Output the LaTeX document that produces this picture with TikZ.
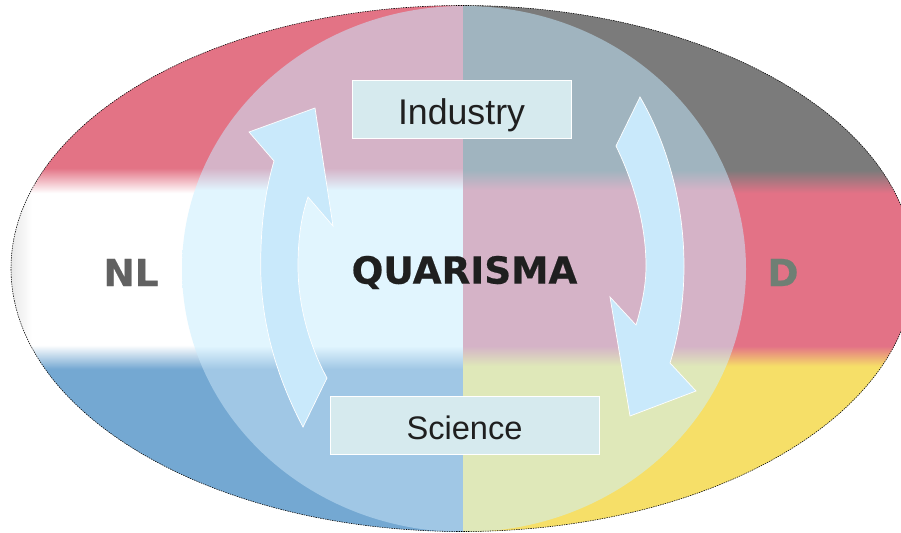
\documentclass[tikz,border=0pt]{standalone}
\usepackage{fontspec}
\setmainfont{Liberation Sans}
\newfontfamily\headfont{DejaVu Sans}[BoldFont={DejaVu Sans Bold},BoldFeatures={FakeBold=0.5}]
\usetikzlibrary{shapes.geometric}
\definecolor{nlred}{HTML}{E37385}
\definecolor{nlblue}{HTML}{74A8D2}
\definecolor{degrey}{HTML}{7B7B7B}
\definecolor{dered}{HTML}{E37286}
\definecolor{deyellow}{HTML}{F6DF68}
\definecolor{cpink}{HTML}{D5B3C7}
\definecolor{cwhite}{HTML}{E1F5FE}
\definecolor{cblue}{HTML}{A0C7E5}
\definecolor{cslate}{HTML}{A0B4BF}
\definecolor{cgreen}{HTML}{DFE8B9}
\definecolor{arrowblue}{HTML}{C9E9FB}
\definecolor{boxfill}{HTML}{D6EAEE}
\definecolor{dgrey}{HTML}{6F7F74}
% the path's bounding box fills the inner 25bp..75bp of a 100bp shading
\pgfdeclareverticalshading{flagNL}{100bp}{color(0bp)=(nlblue); color(40.38bp)=(nlblue); color(42.63bp)=(white); color(56.89bp)=(white); color(59.24bp)=(nlred); color(100bp)=(nlred)}
\pgfdeclareverticalshading{flagDE}{100bp}{color(0bp)=(deyellow); color(40.66bp)=(deyellow); color(42.54bp)=(dered); color(56.89bp)=(dered); color(59.05bp)=(degrey); color(100bp)=(degrey)}
\pgfdeclareverticalshading{circNL}{100bp}{color(0bp)=(cblue); color(40.38bp)=(cblue); color(42.54bp)=(cwhite); color(57.18bp)=(cwhite); color(59.24bp)=(cpink); color(100bp)=(cpink)}
\pgfdeclareverticalshading{circDE}{100bp}{color(0bp)=(cgreen); color(40.66bp)=(cgreen); color(42.54bp)=(cpink); color(57.18bp)=(cpink); color(59.05bp)=(cslate); color(100bp)=(cslate)}
\tikzset{
  x=1bp,y=-1bp,
  flowarrow/.style={fill=arrowblue,draw=white,line width=.7bp,line join=miter},
  labelbox/.style={rectangle,fill=boxfill,draw=white,line width=1bp,inner sep=0pt,text=black!88,anchor=center},
  headtext/.style={font=\headfont\bfseries\fontsize{37.4bp}{40bp}\selectfont,inner sep=0pt}
}
\begin{document}
\begin{tikzpicture}
\useasboundingbox (0,0) rectangle (901,533);
\fill[white] (0,0) rectangle (901,533);
\begin{scope}
  \clip (462.5,268.5) ellipse [x radius=451.5,y radius=263];
  \shade[shading=flagNL] (0,0) rectangle (463.5,533);
  \shade[shading=flagDE] (463.5,0) rectangle (901,533);
  % faint grey halo at the left end
  \shade[left color=black!9,right color=white,draw=none] (11,195) rectangle (32,345);
\end{scope}
\begin{scope}
  \clip (464,269) ellipse [x radius=282,y radius=263];
  \shade[shading=circNL] (0,0) rectangle (463.5,533);
  \shade[shading=circDE] (463.5,0) rectangle (901,533);
\end{scope}
\draw[black,line width=.55bp,dash pattern=on 1.4bp off 1bp] (462.5,268.5) ellipse [x radius=451.5,y radius=263];
% left arrow
\draw[flowarrow] (303,427) .. controls (278,380) and (260.7,325) .. (260.7,266)
  .. controls (260.7,230) and (264,195) .. (274,161) -- (249,132) -- (315,108) -- (333,226) -- (308,197)
  .. controls (301,217) and (298,240) .. (298,266)
  .. controls (298,305) and (309,345) .. (327,378) -- cycle;
% right arrow
\draw[flowarrow] (640,97) .. controls (668,145) and (684,205) .. (684,266)
  .. controls (684,300) and (679,335) .. (670,363) -- (696,391) -- (630,416) -- (610,297) -- (636,325)
  .. controls (642,305) and (646,285) .. (646,266)
  .. controls (646,225) and (634,183) .. (616,146) -- cycle;
\node[labelbox,minimum width=219bp,minimum height=58bp,text height=35bp,text depth=5bp] (industry) at (461.5,110) {\fontsize{35.7bp}{40bp}\selectfont Industry};
\node[labelbox,minimum width=269bp,minimum height=58bp,text height=33bp,text depth=4bp] (science) at (464.5,425) {\fontsize{32.6bp}{38bp}\selectfont Science};
\node[headtext,text=black!88] (quarisma) at (464.5,272.5) {QUARISMA};
\node[headtext,text=black!62] (nl) at (131,272.5) {NL};
\node[headtext,text=dgrey] (de) at (783,272.5) {D};
\end{tikzpicture}
\end{document}
